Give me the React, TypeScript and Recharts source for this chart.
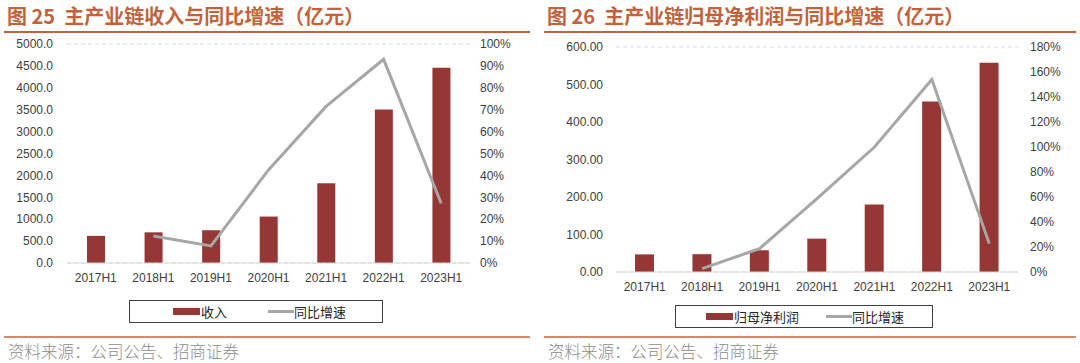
import React from "react";
import {
  Bar,
  CartesianGrid,
  ComposedChart,
  Line,
  XAxis,
  YAxis,
} from "recharts";

const periods = ["2017H1", "2018H1", "2019H1", "2020H1", "2021H1", "2022H1", "2023H1"];

// fig 25: revenue (亿元) and yoy growth
const revenue = [620, 700, 748, 1060, 1820, 3505, 4460];
const revenueYoy = [null, 0.123, 0.078, 0.425, 0.715, 0.93, 0.272];
const revenueTicks = [0, 500, 1000, 1500, 2000, 2500, 3000, 3500, 4000, 4500, 5000];
const revenueYoyTicks = [0, 0.1, 0.2, 0.3, 0.4, 0.5, 0.6, 0.7, 0.8, 0.9, 1];

// fig 26: net profit attributable to parent (亿元) and yoy growth
const profit = [47, 47.5, 58, 89, 180, 455, 558];
const profitYoy = [null, 0.027, 0.187, 0.587, 1.0, 1.54, 0.227];
const profitTicks = [0, 100, 200, 300, 400, 500, 600];
const profitYoyTicks = [0, 0.2, 0.4, 0.6, 0.8, 1.0, 1.2, 1.4, 1.6, 1.8];

const BAR = "#953735";
const LINE = "#a6a6a6";
const ORANGE = "#c0633c";
const GRID = "#d9d9d9";
const FONT = "'Liberation Sans', Arial, sans-serif";
const CJK = "'Noto Sans CJK SC', sans-serif";

const tickStyle = { fontSize: 12, fill: "#404040", fontFamily: FONT };

function pct(v: number) {
  return `${Math.round(v * 100)}%`;
}

function Legend({ left, top, width, barLabel, barX, lineX }: any) {
  return (
    <div
      style={{
        position: "absolute",
        left,
        top,
        width,
        height: 23,
        border: "1px solid #404040",
        boxSizing: "border-box",
        fontFamily: CJK,
        fontSize: 13,
        color: "#262626",
      }}
    >
      <div style={{ position: "absolute", left: barX, top: 7, width: 27, height: 7, background: BAR }} />
      <span style={{ position: "absolute", left: barX + 28, top: 1, lineHeight: "19px" }}>{barLabel}</span>
      <div style={{ position: "absolute", left: lineX, top: 9, width: 26, height: 3, background: LINE }} />
      <span style={{ position: "absolute", left: lineX + 26, top: 1, lineHeight: "19px" }}>同比增速</span>
    </div>
  );
}

function Panel({ left, title, lineWidth, children, legend }: any) {
  return (
    <div style={{ position: "absolute", left, top: 0, width: 540, height: 363 }}>
      <div
        style={{
          position: "absolute",
          left: 7,
          top: 3,
          fontFamily: CJK,
          fontWeight: 700,
          fontSize: 20,
          lineHeight: "26px",
          color: ORANGE,
          whiteSpace: "pre",
        }}
      >
        {title}
      </div>
      <div style={{ position: "absolute", left: 4, top: 31, width: lineWidth, height: 2, background: ORANGE }} />
      {children}
      {legend}
      <div style={{ position: "absolute", left: 4, top: 336, width: lineWidth, height: 2, background: "#d38a6c" }} />
      <div
        style={{
          position: "absolute",
          left: 8,
          top: 340,
          fontFamily: CJK,
          fontWeight: 300,
          fontSize: 16.5,
          lineHeight: "22px",
          color: "#8c8c8c",
          whiteSpace: "nowrap",
        }}
      >
        资料来源：公司公告、招商证券
      </div>
    </div>
  );
}

export default function App() {
  const revenueData = periods.map((p, i) => ({ period: p, value: revenue[i], yoy: revenueYoy[i] }));
  const profitData = periods.map((p, i) => ({ period: p, value: profit[i], yoy: profitYoy[i] }));

  return (
    <div style={{ position: "absolute", left: 0, top: 0, width: 1080, height: 363, background: "#fff", overflow: "hidden" }}>
      <Panel
        left={0}
        title="图 25  主产业链收入与同比增速（亿元）"
        lineWidth={526}
        legend={<Legend left={129} top={300} width={254} barLabel="收入" barX={43} lineX={138} />}
      >
        <div style={{ position: "absolute", left: 0, top: 0 }}>
          <ComposedChart width={540} height={300} data={revenueData} margin={{ top: 44, right: 0, bottom: 7, left: 0 }}>
            <CartesianGrid vertical={false} stroke={GRID} strokeDasharray="4 3" />
            <XAxis
              dataKey="period"
              tick={tickStyle}
              tickLine={false}
              tickMargin={4}
              axisLine={{ stroke: GRID }}
              height={30}
              interval={0}
            />
            <YAxis
              yAxisId="left"
              width={67}
              domain={[0, 5000]}
              ticks={revenueTicks}
              tickFormatter={(v: number) => v.toFixed(1)}
              tick={tickStyle}
              tickLine={false}
              axisLine={false}
              tickMargin={8}
              interval={0}
            />
            <YAxis
              yAxisId="right"
              orientation="right"
              width={70}
              domain={[0, 1]}
              ticks={revenueYoyTicks}
              tickFormatter={pct}
              tick={tickStyle}
              tickLine={false}
              axisLine={false}
              tickMargin={4}
              interval={0}
            />
            <Bar yAxisId="left" dataKey="value" fill={BAR} barSize={18} isAnimationActive={false} />
            <Line
              yAxisId="right"
              dataKey="yoy"
              stroke={LINE}
              strokeWidth={3}
              dot={false}
              type="linear"
              isAnimationActive={false}
            />
          </ComposedChart>
        </div>
      </Panel>

      <Panel
        left={540}
        title="图 26  主产业链归母净利润与同比增速（亿元）"
        lineWidth={532}
        legend={<Legend left={135} top={305} width={258} barLabel="归母净利润" barX={30} lineX={150} />}
      >
        <div style={{ position: "absolute", left: 0, top: 0 }}>
          <ComposedChart width={540} height={310} data={profitData} margin={{ top: 47, right: 0, bottom: 8, left: 0 }}>
            <CartesianGrid vertical={false} stroke={GRID} strokeDasharray="4 3" />
            <XAxis
              dataKey="period"
              tick={tickStyle}
              tickLine={false}
              tickMargin={4}
              axisLine={{ stroke: GRID }}
              height={30}
              interval={0}
            />
            <YAxis
              yAxisId="left"
              width={76}
              domain={[0, 600]}
              ticks={profitTicks}
              tickFormatter={(v: number) => v.toFixed(2)}
              tick={tickStyle}
              tickLine={false}
              axisLine={false}
              tickMargin={7}
              interval={0}
            />
            <YAxis
              yAxisId="right"
              orientation="right"
              width={62}
              domain={[0, 1.8]}
              ticks={profitYoyTicks}
              tickFormatter={pct}
              tick={tickStyle}
              tickLine={false}
              axisLine={false}
              tickMargin={6}
              interval={0}
            />
            <Bar yAxisId="left" dataKey="value" fill={BAR} barSize={19} isAnimationActive={false} />
            <Line
              yAxisId="right"
              dataKey="yoy"
              stroke={LINE}
              strokeWidth={3}
              dot={false}
              type="linear"
              isAnimationActive={false}
            />
          </ComposedChart>
        </div>
      </Panel>
    </div>
  );
}
